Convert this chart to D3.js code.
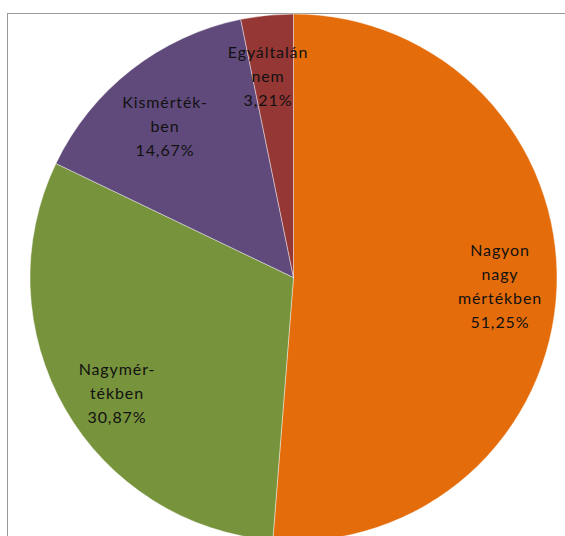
<!DOCTYPE html>
<html><head><meta charset="utf-8">
<script src="https://cdn.jsdelivr.net/npm/d3@7"></script>
<style>html,body{margin:0;padding:0;background:#fff;}svg{display:block;}</style>
</head><body>
<svg id="c" width="565" height="536"></svg>
<script>
const categories = ["Nagyon nagy mértékben", "Nagymértékben", "Kismértékben", "Egyáltalán nem"];
const labelLines = [["Nagyon", "nagy", "mértékben"], ["Nagymér-", "tékben"], ["Kismérték-", "ben"], ["Egyáltalán", "nem"]];
const values = [51.25, 30.87, 14.67, 3.21];
const valueLabels = ["51,25%", "30,87%", "14,67%", "3,21%"];
const colors = ["#E46C0A", "#77933C", "#604A7B", "#953735"];
const labelCenters = [[500, 0.58], [117, 0.62], [165, 0.62], [268, 0.62]];

const svg = d3.select("#c");
const W = 565, H = 536;
// frame
svg.append("rect").attr("x", 7.5).attr("y", 13.5).attr("width", 700).attr("height", 700)
  .attr("fill", "#fff").attr("stroke", "#999").attr("stroke-width", 1);

const cx = 293.5, cy = 277.5, R = 263.5;
const g = svg.append("g").attr("transform", `translate(${cx},${cy})`);
const pie = d3.pie().sort(null).value(d => d)(values);
const arc = d3.arc().innerRadius(0).outerRadius(R);
g.selectAll("path").data(pie).join("path")
  .attr("d", arc).attr("fill", (d, i) => colors[i])
  .attr("stroke", "#fff").attr("stroke-width", 0.6).attr("stroke-opacity", 0.7);

// labels positioned from the slice centroids
const labelArc = d3.arc().innerRadius(0).outerRadius(R);
const lineH = 24;
const tops = [256, 375, 108, 58];
pie.forEach((d, i) => {
  const lines = labelLines[i].concat([valueLabels[i]]);
  const t = svg.append("text").attr("text-anchor", "middle")
    .attr("font-family", "Lato, 'Open Sans', sans-serif").attr("font-size", 16)
    .attr("letter-spacing", 0.9).attr("fill", "#111");
  lines.forEach((s, k) => {
    t.append("tspan").attr("x", labelCenters[i][0]).attr("y", tops[i] + k * lineH).text(s);
  });
});
</script>
</body></html>
